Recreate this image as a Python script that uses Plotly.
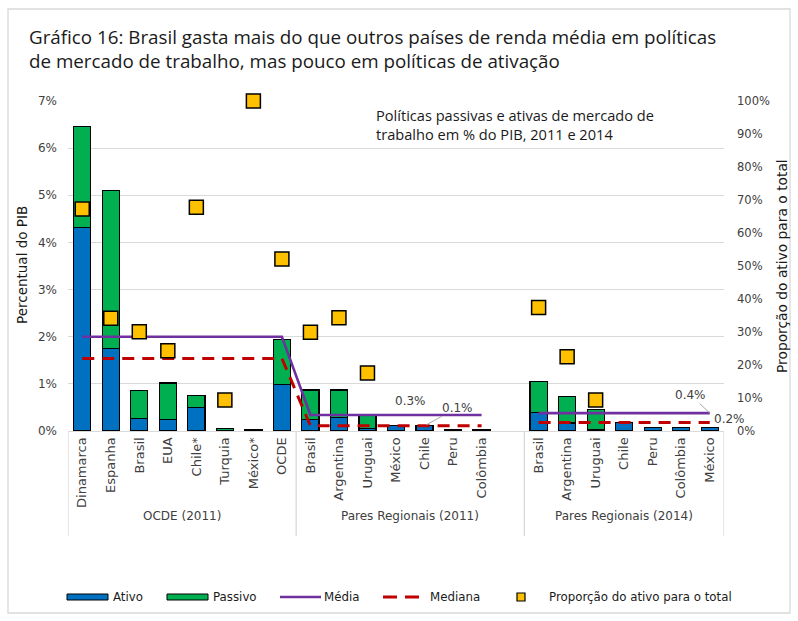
import plotly.graph_objects as go

# Categories (one empty slot separates the 2011 and 2014 regional groups)
categorias = ["Dinamarca", "Espanha", "Brasil", "EUA", "Chile*", "Turquia", "México*", "OCDE",
              "Brasil", "Argentina", "Uruguai", "México", "Chile", "Peru", "Colômbia", "",
              "Brasil", "Argentina", "Uruguai", "Chile", "Peru", "Colômbia", "México"]
grupos = ["OCDE (2011)", "Pares Regionais (2011)", "Pares Regionais (2014)"]
tamanho_grupos = [8, 8, 7]

# Spending, % of GDP
ativo = [4.32, 1.75, 0.26, 0.25, 0.50, 0.006, 0.03, 0.99,
         0.25, 0.29, 0.06, 0.11, 0.11, 0.02, 0.02, None,
         0.40, 0.17, 0.04, 0.18, 0.07, 0.07, 0.07]
passivo = [2.14, 3.36, 0.60, 0.77, 0.26, 0.054, None, 0.95,
           0.62, 0.58, 0.28, None, None, None, None, None,
           0.65, 0.56, 0.42, None, None, None, None]

# Group mean and median (% of GDP)
media = [2.0, 2.0, 2.0, 2.0, 2.0, 2.0, 2.0, 2.0,
         0.34, 0.34, 0.34, 0.34, 0.34, 0.34, 0.34, None,
         0.38, 0.38, 0.38, 0.38, 0.38, 0.38, 0.38]
mediana = [1.54, 1.54, 1.54, 1.54, 1.54, 1.54, 1.54, 1.54,
           0.11, 0.11, 0.11, 0.11, 0.11, 0.11, 0.11, None,
           0.18, 0.18, 0.18, 0.18, 0.18, 0.18, 0.18]

# Share of active policies in the total (%)
proporcao = [67.3, 34.2, 30.1, 24.3, 67.8, 9.4, 100.0, 52.1,
             29.9, 34.3, 17.6, None, None, None, None, None,
             37.4, 22.5, 9.4, None, None, None, None]

x = list(range(len(categorias)))

AZUL = "#0070C0"
VERDE = "#00B050"
ROXO = "#7030A0"
VERMELHO = "#C00000"
AMARELO = "#FFC000"
CINZA_TXT = "#404040"
GRADE = "#D9D9D9"
FONTE = "DejaVu Sans"

# plot-area pixel frame used for placing text
L, R, T, B = 68, 724, 101, 431


def px_x(p):
    return (p - L) / (R - L)


def px_y(p):
    return (B - p) / (B - T)


fig = go.Figure()

fig.add_trace(go.Bar(x=x, y=ativo, name="Ativo", marker=dict(color=AZUL, line=dict(color="black", width=1.2)),
                     width=0.6))
fig.add_trace(go.Bar(x=x, y=passivo, name="Passivo", marker=dict(color=VERDE, line=dict(color="black", width=1.2)),
                     width=0.6))
fig.add_trace(go.Scatter(x=x, y=media, name="Média", mode="lines",
                         line=dict(color=ROXO, width=2.6), connectgaps=False))
fig.add_trace(go.Scatter(x=x, y=mediana, name="Mediana", mode="lines",
                         line=dict(color=VERMELHO, width=3, dash="12px,8px"), connectgaps=False))
fig.add_trace(go.Scatter(x=x, y=proporcao, name="Proporção do ativo para o total", mode="markers",
                         yaxis="y2", cliponaxis=False,
                         marker=dict(symbol="square", size=14, color=AMARELO,
                                     line=dict(color="black", width=1.5))))

annotations = []
shapes = []

# Outer frame
shapes.append(dict(type="rect", xref="paper", yref="paper", x0=px_x(8), x1=px_x(790),
                   y0=px_y(613), y1=px_y(9), line=dict(color=GRADE, width=1.3), layer="below"))

# Title
annotations.append(dict(
    xref="paper", yref="paper", x=px_x(27), y=px_y(22), xanchor="left", yanchor="top",
    text="Gráfico 16: Brasil gasta mais do que outros países de renda média em políticas<br>"
         "de mercado de trabalho, mas pouco em políticas de ativação",
    align="left", showarrow=False, font=dict(family="Open Sans", size=18.8, color="#1a1a1a")))

# Chart note
annotations.append(dict(
    xref="paper", yref="paper", x=px_x(374), y=px_y(103), xanchor="left", yanchor="top",
    text="Políticas passivas e ativas de mercado de<br>trabalho em % do PIB, 2011 e 2014",
    align="left", showarrow=False, font=dict(family="Open Sans", size=14.6, color="#1a1a1a")))

# Axis titles
annotations.append(dict(
    xref="paper", yref="paper", x=px_x(22), y=px_y(265), xanchor="center", yanchor="middle",
    textangle=-90, text="Percentual do PIB", showarrow=False,
    font=dict(family=FONTE, size=13.5, color="#1a1a1a")))
annotations.append(dict(
    xref="paper", yref="paper", x=px_x(782), y=px_y(266), xanchor="center", yanchor="middle",
    textangle=-90, text="Proporção do ativo para o total", showarrow=False,
    font=dict(family=FONTE, size=13.8, color="#1a1a1a")))

# Group labels and separators
inicio = -0.5
bordas = [inicio]
for g, n in zip(grupos, tamanho_grupos):
    fim = inicio + n
    annotations.append(dict(
        xref="x", yref="paper", x=(inicio + fim) / 2, y=px_y(525), text=g, showarrow=False,
        font=dict(family=FONTE, size=12, color=CINZA_TXT)))
    bordas.append(fim)
    inicio = fim
for b in bordas:
    shapes.append(dict(type="line", xref="x", yref="paper", x0=b, x1=b, y0=0, y1=px_y(536),
                       line=dict(color=GRADE, width=1.3)))

# Value labels for the regional mean/median lines
i11 = 12
i14 = len(categorias) - 1
annotations.append(dict(
    x=11.5, y=media[11], text=f"{media[11]:.1f}%", showarrow=False, yanchor="bottom", yshift=5,
    font=dict(family=FONTE, size=12, color=CINZA_TXT)))
annotations.append(dict(
    x=i11, y=mediana[i11], text=f"{mediana[i11]:.1f}%", showarrow=True, arrowhead=0,
    arrowcolor="#A6A6A6", arrowwidth=1, ax=33, ay=-18, standoff=2,
    font=dict(family=FONTE, size=12, color=CINZA_TXT)))
annotations.append(dict(
    x=i14, y=media[i14], text=f"{media[i14]:.1f}%", showarrow=True, arrowhead=0,
    arrowcolor="#A6A6A6", arrowwidth=1, ax=-19, ay=-18, standoff=1,
    font=dict(family=FONTE, size=12, color=CINZA_TXT)))
annotations.append(dict(
    x=i14, y=mediana[i14], text=f"{mediana[i14]:.1f}%", showarrow=False, xanchor="left",
    xshift=2, yshift=4, font=dict(family=FONTE, size=12, color=CINZA_TXT)))

# Legend row
ly = px_y(597)
leg_font = dict(family=FONTE, size=11.8, color="#1a1a1a")
shapes.append(dict(type="rect", xref="paper", yref="paper", x0=px_x(67), x1=px_x(108),
                   y0=px_y(600), y1=px_y(594), fillcolor=AZUL, line=dict(color="black", width=1)))
shapes.append(dict(type="rect", xref="paper", yref="paper", x0=px_x(167), x1=px_x(208),
                   y0=px_y(600), y1=px_y(594), fillcolor=VERDE, line=dict(color="black", width=1)))
shapes.append(dict(type="line", xref="paper", yref="paper", x0=px_x(280), x1=px_x(321),
                   y0=ly, y1=ly, line=dict(color=ROXO, width=2.6)))
shapes.append(dict(type="line", xref="paper", yref="paper", x0=px_x(383), x1=px_x(419),
                   y0=ly, y1=ly, line=dict(color=VERMELHO, width=3, dash="14px,8px")))
shapes.append(dict(type="rect", xref="paper", yref="paper", x0=px_x(517), x1=px_x(525),
                   y0=px_y(601), y1=px_y(593), fillcolor=AMARELO, line=dict(color="black", width=1.2)))
for nome, xpx in [("Ativo", 111), ("Passivo", 211), ("Média", 322), ("Mediana", 428),
                  ("Proporção do ativo para o total", 547)]:
    annotations.append(dict(xref="paper", yref="paper", x=px_x(xpx), y=ly, xanchor="left",
                            yanchor="middle", text=nome, showarrow=False, font=leg_font))

fig.update_layout(
    width=798, height=621,
    margin=dict(l=L, r=798 - R, t=T, b=621 - B),
    paper_bgcolor="white", plot_bgcolor="white",
    barmode="stack",
    showlegend=False,
    xaxis=dict(range=[-0.5, len(categorias) - 0.5], tickmode="array", tickvals=x, ticktext=categorias,
               tickangle=-90, showgrid=False, zeroline=False, showline=True, linecolor=GRADE,
               linewidth=1.3, ticks="", tickfont=dict(family=FONTE, size=13, color=CINZA_TXT)),
    yaxis=dict(range=[0, 7], dtick=1, ticksuffix="%", showgrid=True, gridcolor=GRADE, gridwidth=1.3,
               zeroline=False, showline=False, ticks="", ticklabelstandoff=10,
               tickfont=dict(family=FONTE, size=12, color=CINZA_TXT)),
    yaxis2=dict(range=[0, 100], dtick=10, ticksuffix="%", overlaying="y", side="right",
                showgrid=False, zeroline=False, showline=False, ticks="", ticklabelstandoff=12,
                tickfont=dict(family=FONTE, size=11.5, color=CINZA_TXT)),
    annotations=annotations,
    shapes=shapes,
)

fig.write_html("out.html")
